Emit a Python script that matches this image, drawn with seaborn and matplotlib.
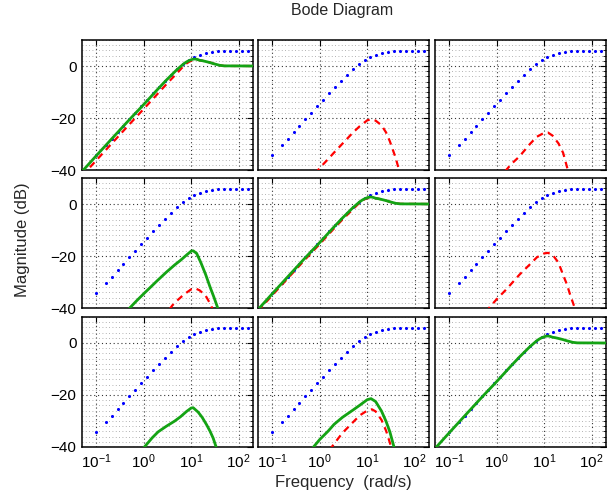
import numpy as np
import pandas as pd
import matplotlib
matplotlib.use("Agg")
import matplotlib.pyplot as plt
import seaborn as sns
from matplotlib.ticker import LogLocator, MultipleLocator, NullFormatter


# Blue dotted reference (same in every panel)
blue_freq = [0.1, 0.157, 0.21, 0.28, 0.374, 0.5, 0.66, 0.88, 1.16, 1.55, 2.07, 2.76, 3.68,
             4.9, 6.6, 8.8, 11.6, 15.5, 20.5, 27.5, 36.8, 49, 66, 88, 117, 157]
blue_db = [-34.1, -30.4, -27.9, -25.4, -22.9, -20.4, -17.9, -15.4, -13.0, -10.5, -8.0, -5.7, -3.4,
           -1.2, 0.6, 2.3, 3.5, 4.4, 5.0, 5.3, 5.6, 5.7, 5.8, 5.9, 5.9, 5.9]

# Diagonal panels (green)
diag_freq = [0.05, 0.1, 0.2, 0.5, 1, 2, 3, 5, 7, 8, 9, 10, 11, 12, 13, 15, 17, 20, 25, 30, 40, 50, 200]
diag_green_db = [-40.6, -34.5, -28.5, -20.6, -14.8, -8.8, -5.4, -1.4, 0.9, 1.6, 2.1, 2.4, 2.65, 2.7,
                 2.6, 2.2, 2.05, 1.75, 1.3, 0.85, 0.25, 0.05, 0.0]
red11_db = [-42.3, -36.3, -30.3, -22.4, -16.5, -10.5, -7.0, -2.8, 0.1, 1.0, 1.6, 2.0, 2.3, 2.5,
            2.5, 2.2, 2.05, 1.75, 1.35, 0.85, 0.25, 0.0, 0.0]
red22_db = [-41.2, -35.1, -29.1, -21.2, -15.4, -9.4, -6.0, -2.0, 0.6, 1.4, 1.9, 2.2, 2.55, 2.65,
            2.6, 2.2, 2.05, 1.75, 1.3, 0.85, 0.25, 0.05, 0.0]

# Row 1
red12_freq = [0.8, 1, 1.5, 2, 3, 5, 7, 10, 12, 15, 20, 25, 30, 40, 50]
red12_db = [-41.5, -39.2, -35.8, -33.3, -29.9, -25.6, -23.1, -20.9, -20.5, -21.0, -22.8, -25.6,
            -29.0, -35.5, -42.0]
red13_freq = [1.5, 2, 3, 5, 7, 10, 12, 15, 20, 25, 30, 35]
red13_db = [-40.5, -37.8, -34.8, -30.0, -27.2, -25.7, -25.6, -26.8, -29.8, -33.4, -38.7, -43.0]

# Row 2
green21_freq = [0.45, 0.5, 0.7, 1, 1.5, 2, 3, 4.5, 6, 8, 10, 11, 13, 16, 20, 25, 30, 37]
green21_db = [-41.2, -40.1, -37.3, -34.5, -31.4, -29.2, -26.2, -23.4, -21.6, -19.6, -18.1, -18.0,
              -19.0, -22.6, -27.0, -32.0, -35.8, -40.5]
red21_freq = [3.5, 4, 5, 7, 10, 12, 15, 20, 25, 30]
red21_db = [-40.5, -39.0, -37.2, -34.8, -32.8, -32.4, -33.2, -35.2, -38.3, -41.5]
red23_freq = [0.6, 0.7, 1, 1.5, 2, 3, 5, 7, 10, 12, 15, 20, 25, 30, 35, 43, 50]
red23_db = [-41.8, -39.8, -36.6, -33.3, -30.8, -27.2, -23.2, -20.5, -19.0, -18.8, -19.5, -22.6,
            -27.3, -30.9, -34.8, -39.5, -42.5]

# Row 3
green31_freq = [0.9, 1, 1.5, 2, 3, 4.5, 6, 8, 10, 11, 14, 17, 21, 25, 29, 34]
green31_db = [-41.5, -40.3, -36.5, -34.2, -32.0, -30.0, -28.3, -26.3, -25.0, -24.9, -26.6, -28.6,
              -31.4, -34.0, -36.6, -40.4]
green32_freq = [0.6, 0.7, 1, 1.5, 2, 3, 5, 7, 10, 12, 15, 20, 25, 30, 37]
green32_db = [-42.0, -40.5, -37.1, -33.9, -31.3, -28.6, -25.8, -23.9, -21.8, -21.4, -22.5, -26.2,
              -30.2, -34.2, -40.3]
red32_freq = [1.6, 2, 3, 5, 7, 10, 12.5, 15, 20, 25, 32, 35]
red32_db = [-41.2, -38.8, -34.6, -30.5, -27.8, -26.0, -25.5, -26.3, -29.6, -33.8, -40.0, -43.0]

red_curves = {
    (0, 0): (diag_freq, red11_db), (0, 1): (red12_freq, red12_db), (0, 2): (red13_freq, red13_db),
    (1, 0): (red21_freq, red21_db), (1, 1): (diag_freq, red22_db), (1, 2): (red23_freq, red23_db),
    (2, 1): (red32_freq, red32_db),
}
green_curves = {
    (0, 0): (diag_freq, diag_green_db), (1, 0): (green21_freq, green21_db),
    (1, 1): (diag_freq, diag_green_db), (2, 0): (green31_freq, green31_db),
    (2, 1): (green32_freq, green32_db), (2, 2): (diag_freq, diag_green_db),
}

sns.set_theme(style="white")
plt.rcParams["font.family"] = ["Liberation Sans", "DejaVu Sans"]
plt.rcParams["axes.unicode_minus"] = True

fig = plt.figure(figsize=(6.11, 4.95), dpi=100)

W, H = 611, 495
lefts = [82, 258, 435]
tops = [40, 178, 317]
pw, ph = 171, 130

green_col = (0.08, 0.64, 0.08)

for r in range(3):
    for c in range(3):
        ax = fig.add_axes([lefts[c] / W, 1 - (tops[r] + ph) / H, pw / W, ph / H])
        ax.set_xscale("log")

        sns.scatterplot(x=blue_freq, y=blue_db, ax=ax, color="blue", s=5,
                        marker="o", linewidth=0, zorder=3)
        if (r, c) in red_curves:
            f, d = red_curves[(r, c)]
            sns.lineplot(x=f, y=d, ax=ax, color="red", lw=1.6,
                         linestyle=(0, (3, 2.3)), zorder=4)
        if (r, c) in green_curves:
            f, d = green_curves[(r, c)]
            sns.lineplot(x=f, y=d, ax=ax, color=green_col, lw=2.0, zorder=5)

        ax.set_xlim(0.05, 200)
        ax.set_ylim(-40, 10)
        ax.set_xticks([0.1, 1, 10, 100])
        ax.xaxis.set_minor_locator(LogLocator(base=10, subs=np.arange(2, 10)))
        ax.xaxis.set_minor_formatter(NullFormatter())
        ax.set_yticks([-40, -20, 0])
        ax.yaxis.set_minor_locator(MultipleLocator(2))

        ax.grid(True, which="major", ls=(0, (1, 2.5)), color="0.2", lw=0.8)
        ax.grid(True, which="minor", ls=(0, (1, 3)), color="0.6", lw=0.6)

        ax.tick_params(which="both", direction="in", top=True, right=True,
                       labelsize=11, colors="black", pad=4)
        ax.tick_params(which="major", length=4, width=0.8)
        ax.tick_params(which="minor", length=2, width=0.6)
        ax.tick_params(labelleft=(c == 0), labelbottom=(r == 2))
        for s in ax.spines.values():
            s.set_color("black")
            s.set_linewidth(1.1)
        ax.set_xlabel("")
        ax.set_ylabel("")

fig.text(342 / W, 1 - 11 / H, "Bode Diagram", ha="center", va="center", fontsize=11.5)
fig.text(343 / W, 1 - 482 / H, "Frequency  (rad/s)", ha="center", va="center", fontsize=12)
fig.text(23 / W, 1 - 240 / H, "Magnitude (dB)", ha="center", va="center",
         rotation=90, fontsize=12)

fig.savefig("out.png", dpi=100)
